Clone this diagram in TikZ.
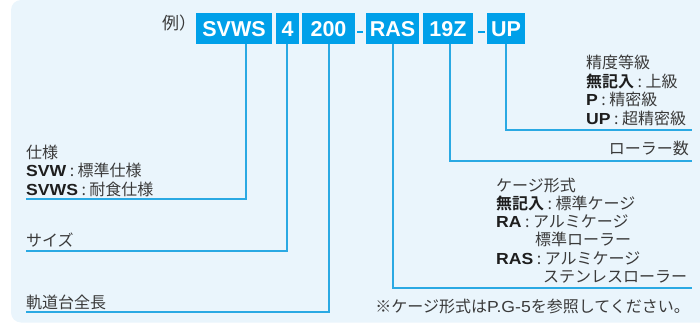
\documentclass[tikz,border=0pt]{standalone}
\usepackage{fontspec}
\setmainfont{Noto Sans CJK JP}[BoldFont={Noto Sans CJK JP Bold}]
\newfontfamily\lat{Liberation Sans}[FakeStretch=1.1]
\newfontfamily\latbox{Liberation Sans}
\definecolor{bgc}{HTML}{EAF5FC}
\definecolor{boxc}{HTML}{00A0E9}
\definecolor{linec}{HTML}{2AA9E3}
\definecolor{txt}{HTML}{3A3A3A}
\definecolor{txtb}{HTML}{1E1E1E}
\newcommand{\cl}{\hspace{3.5pt}:\hspace{3.5pt}}
\newcommand{\bl}[1]{{\lat\bfseries\color{txtb}#1}}
\newcommand{\bj}[1]{{\bfseries\color{txtb}#1}}
\tikzset{
  codebox/.style={fill=boxc, text=white, inner sep=0pt, minimum height=31pt,
    font=\latbox\bfseries\fontsize{21.5}{21.5}\selectfont, text height=15.5pt, text depth=0pt},
  lbl/.style={anchor=west, inner sep=0pt, text=txt, text height=14pt, text depth=2pt,
    font=\fontsize{16}{18.5}\selectfont},
  lblr/.style={lbl, anchor=east},
  conn/.style={draw=linec, line width=1.3pt},
  dashmark/.style={fill=boxc, inner sep=0pt, minimum height=2.2pt}
}
\begin{document}
\begin{tikzpicture}[x=1pt,y=-1pt]
\useasboundingbox (0,0) rectangle (700,323);
\begin{scope}
\clip (0,0) rectangle (700,323);
\fill[bgc, rounded corners=10pt] (11,0) rectangle (730,322.5);
\end{scope}
% title
\node[lbl, font=\fontsize{17}{17}\selectfont] (rei) at (162,24) {例）};
% code boxes
\node[codebox, minimum width=76pt] (bSVWS) at (234,28.5) {SVWS};
\node[codebox, minimum width=23pt] (b4) at (287.5,28.5) {4};
\node[codebox, minimum width=53pt] (b200) at (328.5,28.5) {200};
\node[dashmark, minimum width=6pt] (d1) at (360,32) {};
\node[codebox, minimum width=53pt] (bRAS) at (392.5,28.5) {RAS};
\node[codebox, minimum width=50pt] (b19Z) at (448,28.5) {19Z};
\node[dashmark, minimum width=7pt] (d2) at (481.5,32) {};
\node[codebox, minimum width=38pt] (bUP) at (506,28.5) {UP};
% end coordinates
\coordinate (eSVWS) at (26,199);
\coordinate (e4) at (26,251);
\coordinate (e200) at (26,312);
\coordinate (eRAS) at (692,288);
\coordinate (e19Z) at (692,161);
\coordinate (eUP) at (692,130);
% connectors
\draw[conn] (bSVWS.south -| 246,0) |- (eSVWS);
\draw[conn] (b4.south -| 287,0) |- (e4);
\draw[conn] (b200.south -| 329,0) |- (e200);
\draw[conn] (bRAS.south -| 393,0) |- (eRAS);
\draw[conn] (b19Z.south -| 450,0) |- (e19Z);
\draw[conn] (bUP.south -| 506,0) |- (eUP);
% left labels
\node[lbl] (s1) at (26,152) {仕様};
\node[lbl] (s2) at (26,170.5) {\bl{SVW}\cl 標準仕様};
\node[lbl] (s3) at (26,189) {\bl{SVWS}\cl 耐食仕様};
\node[lbl] (sz) at (26,240) {サイズ};
\node[lbl] (ln) at (26,302) {軌道台全長};
% precision
\node[lbl] (p1) at (586,63) {精度等級};
\node[lbl] (p2) at (586,81.5) {\bj{無記入}\cl 上級};
\node[lbl] (p3) at (586,100) {\bl{P}\cl 精密級};
\node[lbl] (p4) at (586,118.5) {\bl{UP}\cl 超精密級};
\node[lblr] (rc) at (689,148) {ローラー数};
% cage
\node[lbl] (c1) at (496,185) {ケージ形式};
\node[lbl] (c2) at (496,203) {\bj{無記入}\cl 標準ケージ};
\node[lbl] (c3) at (496,221) {\bl{RA}\cl アルミケージ};
\node[lbl] (c4) at (535,239.5) {標準ローラー};
\node[lbl] (c5) at (496,258) {\bl{RAS}\cl アルミケージ};
\node[lbl] (c6) at (543,276) {ステンレスローラー};
\node[lblr] (fn) at (690,306) {※ケージ形式は{\lat P.G-5}を参照してください。};
\end{tikzpicture}
\end{document}
